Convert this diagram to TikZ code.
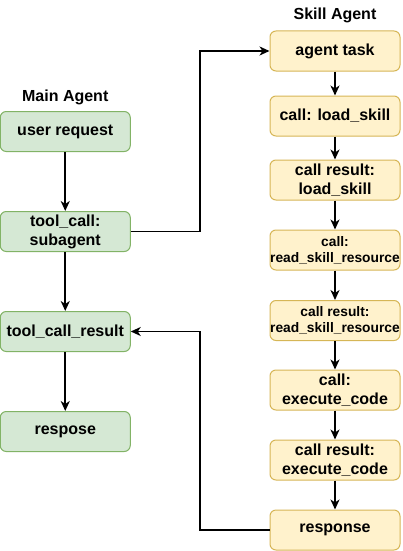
\documentclass[tikz,border=0pt]{standalone}
\usepackage{fontspec}
\setmainfont{Liberation Sans}
\usetikzlibrary{arrows.meta}
\definecolor{gfill}{HTML}{D5E8D4}
\definecolor{gdraw}{HTML}{82B366}
\definecolor{yfill}{HTML}{FFF2CC}
\definecolor{ydraw}{HTML}{D6B656}
\tikzset{
  box/.style={rounded corners=6pt, minimum width=130pt, minimum height=40pt, inner sep=0pt, align=center, line width=1pt, font=\fontsize{16}{19}\selectfont\bfseries},
  gbox/.style={box, fill=gfill, draw=gdraw},
  ybox/.style={box, fill=yfill, draw=ydraw},
  small/.style={font=\fontsize{13.8}{16}\selectfont\bfseries},
  title/.style={font=\fontsize{16}{19}\selectfont\bfseries},
  conn/.style={line width=1.8pt, -{Stealth[length=10pt,width=9pt,inset=3pt]}}
}
\begin{document}
\begin{tikzpicture}[x=1pt,y=-1pt]
\useasboundingbox (0,0) rectangle (402,551);
\node[title] (mt) at (65.25,97) {Main Agent};
\node[title] (st) at (335,15) {Skill Agent};
\node[gbox] (ur) at (65.25,131.5) {user request};
\node[gbox] (tc) at (65.25,231.5) {tool\_call:\\subagent};
\node[gbox] (tr) at (65.25,331.5) {tool\_call\_result};
\node[gbox] (rp) at (65.25,431.5) {respose};
\node[ybox] (at) at (335,51) {agent task};
\node[ybox] (ls) at (335,116) {call: load\_skill};
\node[ybox] (lr) at (335,180) {call result:\\load\_skill};
\node[ybox,small] (rs) at (335,250) {call:\\read\_skill\_resource};
\node[ybox,small] (rr) at (335,320.5) {call result:\\read\_skill\_resource};
\node[ybox] (ec) at (335,390) {call:\\execute\_code};
\node[ybox] (er) at (335,460) {call result:\\execute\_code};
\node[ybox] (re) at (335,530) {response};
\coordinate (mid) at (200,0);
\draw[conn] (ur) -- (tc);
\draw[conn] (tc) -- (tr);
\draw[conn] (tr) -- (rp);
\draw[conn] (at) -- (ls);
\draw[conn] (ls) -- (lr);
\draw[conn] (lr) -- (rs);
\draw[conn] (rs) -- (rr);
\draw[conn] (rr) -- (ec);
\draw[conn] (ec) -- (er);
\draw[conn] (er) -- (re);
\draw[conn] (tc.east) -- (tc.east -| mid) |- (at.west);
\draw[conn] (re.west) -- (re.west -| mid) |- (tr.east);
\end{tikzpicture}
\end{document}
